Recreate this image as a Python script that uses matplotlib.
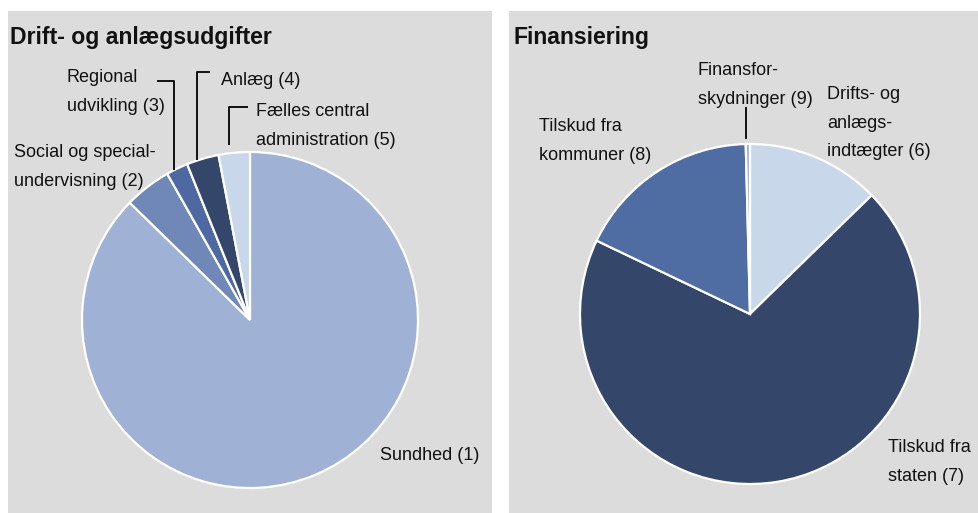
import os
import matplotlib.pyplot as plt
from matplotlib import font_manager as fm
from matplotlib.patches import Rectangle
import numpy as np

# Left pie: Drift- og anlægsudgifter (clockwise from 12 o'clock)
udgift_labels = ['Sundhed (1)', 'Social og special-\nundervisning (2)', 'Regional\nudvikling (3)',
                 'Anlæg (4)', 'Fælles central\nadministration (5)']
udgift_values = [87.3, 4.5, 2.1, 3.1, 3.0]
udgift_colors = ['#9fb1d5', '#6f88b8', '#4e69a1', '#34476b', '#c9d7ea']

# Right pie: Finansiering (clockwise from 12 o'clock)
finans_labels = ['Drifts- og\nanlægs-\nindtægter (6)', 'Tilskud fra\nstaten (7)',
                 'Tilskud fra\nkommuner (8)', 'Finansfor-\nskydninger (9)']
finans_values = [12.7, 69.4, 17.5, 0.4]
finans_colors = ['#c9d7ea', '#34476b', '#4f6ca3', '#9fb1d5']

W, H = 979, 513
BG = '#dcdcdc'
TXT = '#111111'


def find_font(name):
    for f in fm.fontManager.ttflist:
        if os.path.basename(f.fname).lower() == name.lower():
            return f.fname
    return None


narrow = find_font('LiberationSansNarrow-Regular.ttf')
bold = find_font('LiberationSans-Bold.ttf')
if narrow:
    label_fp = fm.FontProperties(fname=narrow, size=15.2)
else:
    label_fp = fm.FontProperties(family='Liberation Sans', size=13)
if bold:
    title_fp = fm.FontProperties(fname=bold, size=16.6)
else:
    title_fp = fm.FontProperties(family='DejaVu Sans', weight='bold', size=15)


def Y(y):
    # image pixel row -> axis coordinate
    return H - y


fig = plt.figure(figsize=(W / 100, H / 100), dpi=100)
ax = fig.add_axes([0, 0, 1, 1])

ax.add_patch(Rectangle((8, 0), 484, Y(11), facecolor=BG, edgecolor='none'))
ax.add_patch(Rectangle((509, 0), 470, Y(11), facecolor=BG, edgecolor='none'))

wp = dict(edgecolor='white', linewidth=1.6)
c1, r1 = (250, Y(320)), 168
c2, r2 = (750, Y(314)), 170
w1, _ = ax.pie(udgift_values, colors=udgift_colors, startangle=90, counterclock=False,
               center=c1, radius=r1, wedgeprops=wp)
w2, _ = ax.pie(finans_values, colors=finans_colors, startangle=90, counterclock=False,
               center=c2, radius=r2, wedgeprops=wp)

ax.set_xlim(0, W)
ax.set_ylim(0, H)
ax.set_aspect('equal')
ax.axis('off')

tkw = dict(fontproperties=label_fp, color=TXT, va='top', ha='left', linespacing=1.9)
ax.text(10, Y(26), 'Drift- og anlægsudgifter', fontproperties=title_fp, color=TXT, va='top')
ax.text(514, Y(26), 'Finansiering', fontproperties=title_fp, color=TXT, va='top')

ax.text(380, Y(447), udgift_labels[0], **tkw)
ax.text(14, Y(144), udgift_labels[1], **tkw)
ax.text(67, Y(69), udgift_labels[2], **tkw)
ax.text(221, Y(72), udgift_labels[3], **tkw)
ax.text(256, Y(103), udgift_labels[4], **tkw)

ax.text(827, Y(86), finans_labels[0], **tkw)
ax.text(888, Y(439), finans_labels[1], **tkw)
ax.text(539, Y(118), finans_labels[2], **tkw)
ax.text(698, Y(62), finans_labels[3], **tkw)


def edge_x(w, center, r, frac=0.33):
    # point on the rim inside a wedge, measured clockwise from its start
    a = np.deg2rad(w.theta2 - frac * (w.theta2 - w.theta1))
    x = center[0] + r * np.cos(a)
    y = center[1] + r * np.sin(a)
    return x, y


lk = dict(color='black', linewidth=1.3, solid_capstyle='butt')
# Regional (3): up then left
x, y = edge_x(w1[2], c1, r1)
ax.plot([x, x, x - 17], [y, Y(81), Y(81)], **lk)
# Anlæg (4): up then right
x, y = edge_x(w1[3], c1, r1)
ax.plot([x, x, x + 13], [y, Y(72), Y(72)], **lk)
# Fælles (5): short line above the pie, then right
x, y = edge_x(w1[4], c1, r1)
ax.plot([x, x, x + 19], [y + 8, Y(107), Y(107)], **lk)
# Finansforskydninger (9)
x, y = edge_x(w2[3], c2, r2, 0.5)
ax.plot([x - 2, x - 2], [y + 5, Y(107)], **lk)

fig.savefig('out.png', dpi=100, facecolor='white')
